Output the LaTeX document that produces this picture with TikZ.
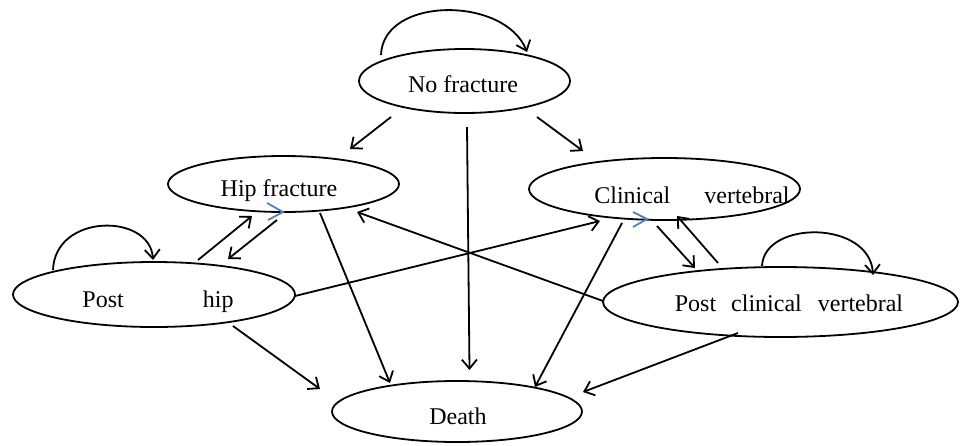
\documentclass[tikz,border=0pt]{standalone}
\usepackage{fontspec}
\setmainfont{Liberation Serif}
\usetikzlibrary{shapes.geometric,arrows.meta}
\definecolor{chevblue}{RGB}{79,129,189}
\tikzset{
  state/.style={draw=black, ellipse, line width=1.8pt, inner sep=0pt},
  lbl/.style={anchor=base, inner sep=0pt, font=\fontsize{24}{28}\selectfont},
  conn/.style={line width=1.8pt, -{Straight Barb[length=9pt,width=15pt,line width=1.8pt]}},
  chev/.style={draw=chevblue, line width=1.8pt}
}
\begin{document}
\begin{tikzpicture}[x=1pt,y=-1pt]
\useasboundingbox (0,0) rectangle (963,445);
% states
\node[state, minimum width=211pt, minimum height=64pt] (nf) at (464.5,81) {};
\node[state, minimum width=231pt, minimum height=56pt] (hf) at (283.5,184) {};
\node[state, minimum width=271pt, minimum height=62pt] (cv) at (664.5,189) {};
\node[state, minimum width=282pt, minimum height=65pt] (ph) at (154,294.5) {};
\node[state, minimum width=355pt, minimum height=70pt] (pcv) at (780.5,302) {};
\node[state, minimum width=250pt, minimum height=61pt] (de) at (457,411.5) {};
% labels
\node[lbl] (tnf) at (463,92) {No fracture};
\node[lbl] (thf) at (279,196.5) {Hip fracture};
\node[lbl] (tcv) at (692,203) {Clinical\hspace{34pt}vertebral};
\node[lbl] (tph) at (158,307) {Post\hspace{79pt}hip};
\node[lbl] (tpcv) at (789,311.7) {Post\hspace{15pt}clinical\hspace{16pt}vertebral};
\node[lbl] (tde) at (458,424) {Death};
% self loops
\draw[conn] ([shift={(-83.5,-26)}]nf.center) .. controls (383,-4) and (505,-4) .. ([shift={(62.5,-29)}]nf.center);
\draw[conn] ([shift={(-101,-24.5)}]ph.center) .. controls (55,213) and (150,213) .. ([shift={(-1,-34.5)}]ph.center);
\draw[conn] ([shift={(-18.5,-36)}]pcv.center) .. controls (764,220) and (870,220) .. ([shift={(92.5,-27)}]pcv.center);
% transitions
\draw[conn] ([shift={(-73.5,36)}]nf.center) -- ([shift={(66.5,-35)}]hf.center);
\draw[conn] ([shift={(72.5,36)}]nf.center) -- ([shift={(-81.5,-38)}]cv.center);
\draw[conn] ([shift={(2.5,46)}]nf.center) -- ([shift={(12.5,-41.5)}]de.center);
\draw[conn] ([shift={(44,-34.5)}]ph.center) -- ([shift={(-31.5,32)}]hf.center);
\draw[conn] ([shift={(-6.5,36)}]hf.center) -- ([shift={(74,-35.5)}]ph.center);
\draw[conn] ([shift={(36.5,29)}]hf.center) -- ([shift={(-67,-28.5)}]de.center);
\draw[conn] ([shift={(-177.5,-1)}]pcv.center) -- ([shift={(73.5,28)}]hf.center);
\draw[conn] ([shift={(141,1.5)}]ph.center) -- ([shift={(-64.5,32)}]cv.center);
\draw[conn] ([shift={(-42.5,34)}]cv.center) -- ([shift={(78,-24.5)}]de.center);
\draw[conn] ([shift={(-7.5,37)}]cv.center) -- ([shift={(-85.5,-34)}]pcv.center);
\draw[conn] ([shift={(-62.5,-39)}]pcv.center) -- ([shift={(12.5,27)}]cv.center);
\draw[conn] ([shift={(79,31.5)}]ph.center) -- ([shift={(-137,-22.5)}]de.center);
\draw[conn] ([shift={(-42.5,31)}]pcv.center) -- ([shift={(126,-19.5)}]de.center);
% blue chevrons
\draw[chev] ([shift={(-16.5,19)}]hf.center) -- ([shift={(-0.5,28)}]hf.center) -- ([shift={(-15.5,36)}]hf.center);
\draw[chev] ([shift={(-31.5,23)}]cv.center) -- ([shift={(-17.5,30)}]cv.center) -- ([shift={(-31.5,38)}]cv.center);
\end{tikzpicture}
\end{document}
